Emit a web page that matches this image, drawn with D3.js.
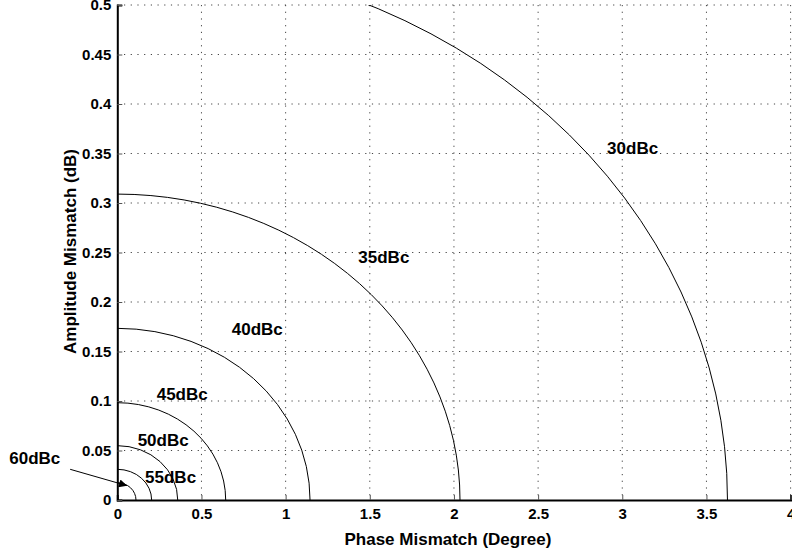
<!DOCTYPE html>
<html>
<head>
<meta charset="utf-8">
<script src="https://cdn.jsdelivr.net/npm/d3@7"></script>
<style>
  body { margin: 0; background: #fff; }
  svg { display: block; font-family: Arial, 'Liberation Sans', Helvetica, sans-serif; font-weight: bold; }
</style>
</head>
<body>
<svg id="chart" width="792" height="559"></svg>
<script>
// image rejection contours
var contourNames = ['30dBc', '35dBc', '40dBc', '45dBc', '50dBc', '55dBc', '60dBc']
// phase mismatch (deg) where each contour meets amplitude = 0
var phaseIntercepts = [3.625, 2.036, 1.145, 0.644, 0.359, 0.204, 0.111]
// amplitude mismatch (dB) where each contour meets phase = 0
var ampIntercepts = [0.549, 0.309, 0.1734, 0.0983, 0.0549, 0.031, 0.0175]
// where the label text sits (data coords, left/baseline)
var labelPhase = [2.91, 1.432, 0.68, 0.234, 0.121, 0.165, -0.642]
var labelAmp = [0.35, 0.239, 0.1667, 0.101, 0.0545, 0.0175, 0.0364]
// 60dBc arrow, tail -> head
var arrowPhase = [-0.28, 0.058]
var arrowAmp = [0.031, 0.0145]

var xTicks = [0, 0.5, 1, 1.5, 2, 2.5, 3, 3.5, 4]
var yTicks = [0, 0.05, 0.1, 0.15, 0.2, 0.25, 0.3, 0.35, 0.4, 0.45, 0.5]

var margin = { top: 5, right: 1.4, bottom: 59, left: 117.3 }
var svg = d3.select('#chart')
var width = +svg.attr('width') - margin.left - margin.right
var height = +svg.attr('height') - margin.top - margin.bottom

var x = d3.scaleLinear().domain([0, 4]).range([0, width])
var y = d3.scaleLinear().domain([0, 0.5]).range([height, 0])

var g = svg.append('g').attr('transform', 'translate(' + margin.left + ',' + margin.top + ')')

svg.append('defs')
  .append('clipPath')
  .attr('id', 'plotClip')
  .append('rect')
  .attr('width', width)
  .attr('height', height)

// dotted grid
g.append('g')
  .selectAll('line')
  .data(xTicks.slice(1))
  .enter()
  .append('line')
  .attr('x1', function(d) { return x(d) })
  .attr('x2', function(d) { return x(d) })
  .attr('y1', 0)
  .attr('y2', height)
g.append('g')
  .selectAll('line')
  .data(yTicks.slice(1))
  .enter()
  .append('line')
  .attr('x1', 0)
  .attr('x2', width)
  .attr('y1', function(d) { return y(d) })
  .attr('y2', function(d) { return y(d) })
g.selectAll('g line')
  .attr('stroke', '#444')
  .attr('stroke-width', 1)
  .attr('stroke-dasharray', '1.2,5.5')

// axes, ticks point inward like matlab
var xAxis = g.append('g')
  .attr('transform', 'translate(0,' + height + ')')
  .call(d3.axisBottom(x).tickValues(xTicks).tickSize(-5).tickPadding(8).tickFormat(d3.format('~g')))
var yAxis = g.append('g')
  .call(d3.axisLeft(y).tickValues(yTicks).tickSize(-5).tickPadding(6).tickFormat(d3.format('~g')))
;[xAxis, yAxis].forEach(function(ax) {
  ax.select('.domain').attr('stroke', '#000').attr('stroke-width', 2)
  ax.selectAll('.tick line').attr('stroke', '#555')
  ax.selectAll('.tick text')
    .attr('fill', '#000')
    .style('font-size', '15px')
    .style('font-family', 'Arial, Liberation Sans, sans-serif')
    .style('font-weight', 'bold')
  ax.attr('font-family', null).attr('font-size', null)
})

// contour arcs (quarter ellipses), clipped to the plot
g.append('g')
  .attr('clip-path', 'url(#plotClip)')
  .selectAll('path')
  .data(contourNames)
  .enter()
  .append('path')
  .attr('fill', 'none')
  .attr('stroke', '#000')
  .attr('stroke-width', 1)
  .attr('d', function(d, i) {
    var rx = x(phaseIntercepts[i]) - x(0)
    var ry = y(0) - y(ampIntercepts[i])
    return 'M' + x(phaseIntercepts[i]) + ',' + y(0) +
      ' A' + rx + ',' + ry + ' 0 0 0 ' + x(0) + ',' + y(ampIntercepts[i])
  })

// contour labels
g.append('g')
  .selectAll('text')
  .data(contourNames)
  .enter()
  .append('text')
  .attr('x', function(d, i) { return x(labelPhase[i]) })
  .attr('y', function(d, i) { return y(labelAmp[i]) })
  .style('font-size', '17px')
  .text(function(d) { return d })

// arrow to the 60dBc contour
svg.select('defs')
  .append('marker')
  .attr('id', 'head')
  .attr('viewBox', '0 0 10 10')
  .attr('refX', 10)
  .attr('refY', 5)
  .attr('markerWidth', 11)
  .attr('markerHeight', 8)
  .attr('markerUnits', 'userSpaceOnUse')
  .attr('orient', 'auto')
  .append('path')
  .attr('d', 'M0,0L10,5L0,10Z')
  .attr('fill', '#000')
g.append('line')
  .attr('x1', x(arrowPhase[0]))
  .attr('y1', y(arrowAmp[0]))
  .attr('x2', x(arrowPhase[1]))
  .attr('y2', y(arrowAmp[1]))
  .attr('stroke', '#000')
  .attr('stroke-width', 1)
  .attr('marker-end', 'url(#head)')

// axis titles
g.append('text')
  .attr('x', width / 2 - 6)
  .attr('y', height + 45)
  .attr('text-anchor', 'middle')
  .style('font-size', '17px')
  .text('Phase Mismatch (Degree)')
g.append('text')
  .attr('transform', 'translate(' + (76 - margin.left) + ',' + (height / 2 - 1) + ') rotate(-90)')
  .attr('text-anchor', 'middle')
  .style('font-size', '17px')
  .text('Amplitude Mismatch (dB)')
</script>
</body>
</html>
